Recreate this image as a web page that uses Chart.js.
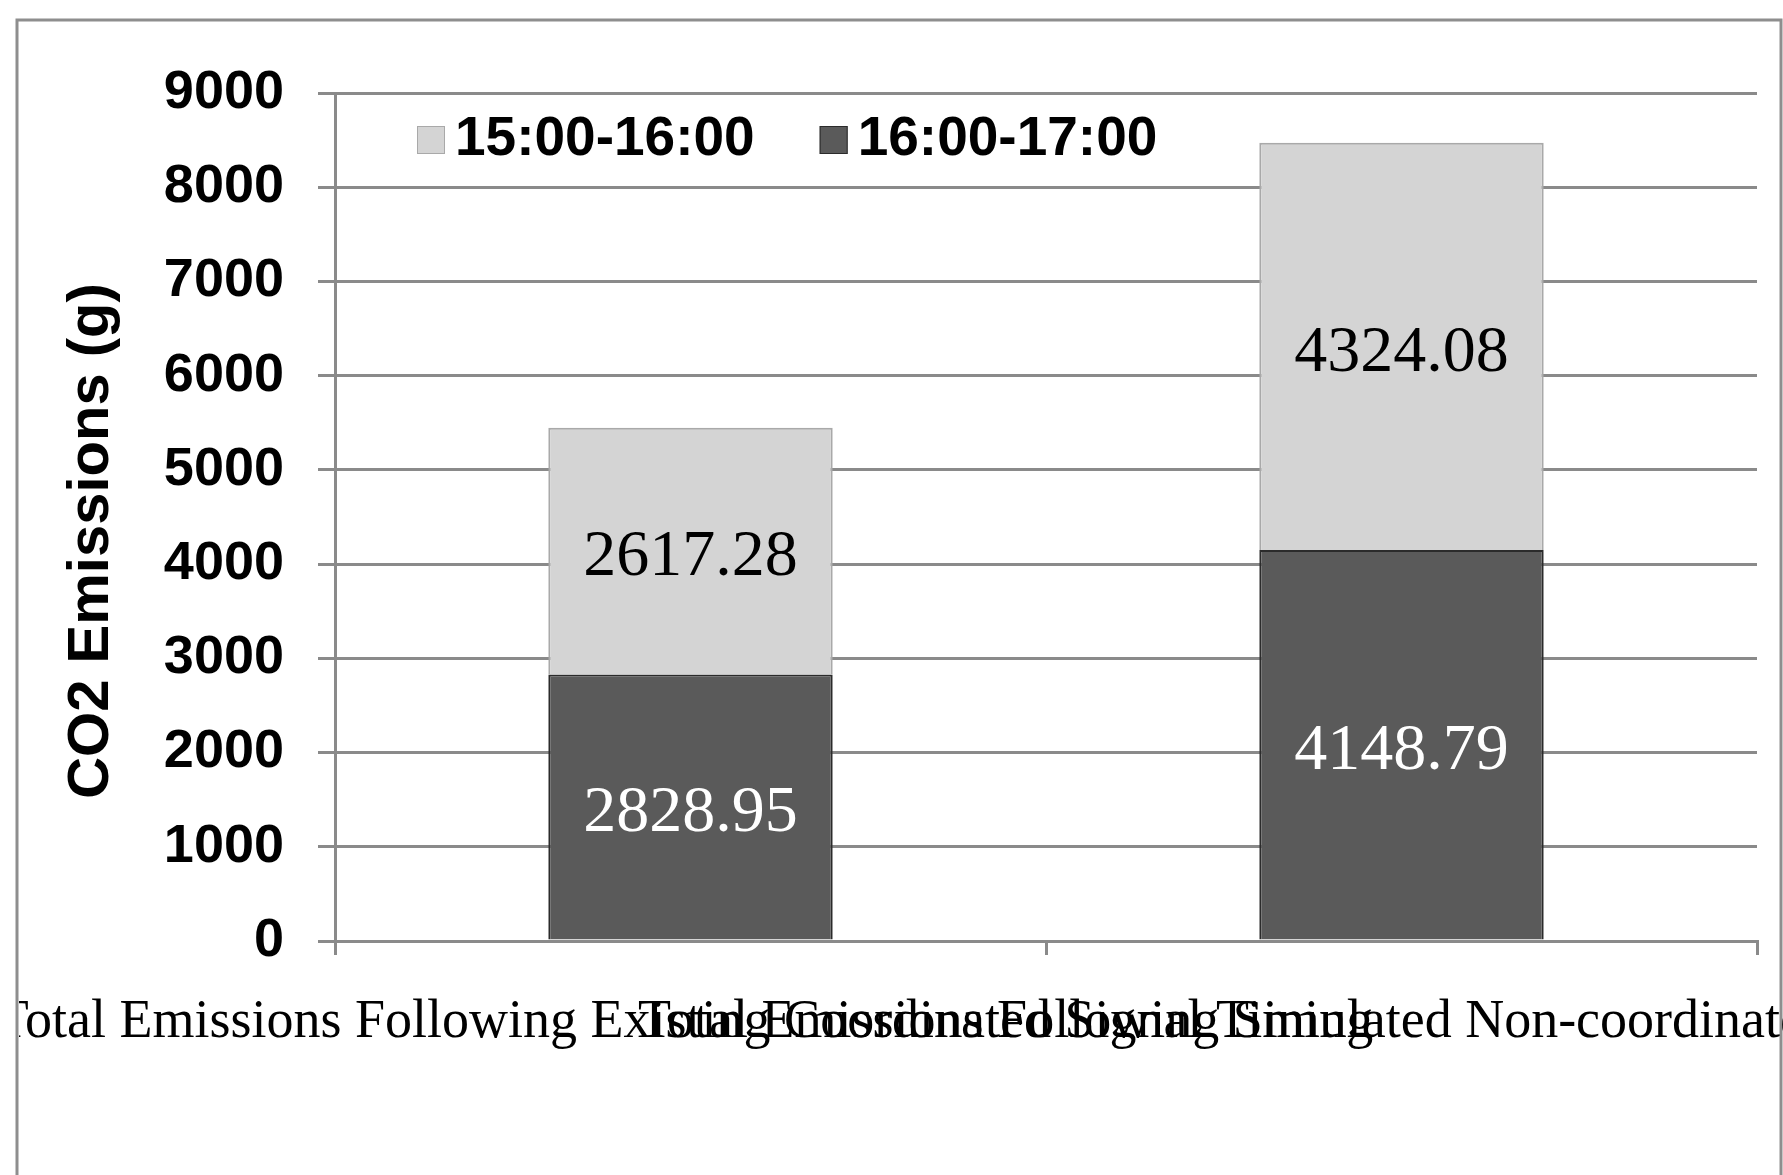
<!DOCTYPE html>
<html><head><meta charset="utf-8">
<script src="https://cdn.jsdelivr.net/npm/chart.js@4.4.1/dist/chart.umd.min.js"></script>
<style>html,body{margin:0;padding:0;background:#fff;overflow:hidden}canvas{display:block}</style>
</head><body>
<canvas id="c" width="1783" height="1175"></canvas>
<script>
// ---- data ----
const categories = [
  "Total Emissions Following Existing Coordinated Signal Timing",
  "Total Emissions Following Simulated Non-coordinated Signal Timing"
];
const seriesLate = "16:00-17:00";
const seriesEarly = "15:00-16:00";
const valuesLate = [2828.95, 4148.79];
const valuesEarly = [2617.28, 4324.08];
const yMin = 0, yMax = 9000, yStep = 1000;
const yTitle = "CO2 Emissions (g)";

// ---- styles ----
const GRID = '#8a8a8a';
const SANS = '"Liberation Sans", Arial, sans-serif';
const SERIF = '"Liberation Serif", "Times New Roman", serif';

const framePlugin = {
  id: 'frame',
  beforeDraw(chart) {
    const ctx = chart.ctx;
    ctx.save();
    ctx.fillStyle = '#fff';
    ctx.fillRect(0, 0, chart.width, chart.height);
    ctx.restore();
  },
  afterDraw(chart) {
    const ctx = chart.ctx;
    ctx.save();
    ctx.strokeStyle = '#8e8e8e';
    ctx.lineWidth = 3;
    ctx.strokeRect(17, 20, chart.width - 19, chart.height + 50);
    ctx.restore();
  }
};

const valueLabels = {
  id: 'valueLabels',
  afterDatasetsDraw(chart) {
    const ctx = chart.ctx;
    ctx.save();
    ctx.font = '66px ' + SERIF;
    ctx.textAlign = 'center';
    ctx.textBaseline = 'middle';
    chart.data.datasets.forEach((ds, di) => {
      const meta = chart.getDatasetMeta(di);
      meta.data.forEach((bar, i) => {
        const p = bar.getProps(['x', 'y', 'base'], true);
        ctx.fillStyle = ds.labelColor;
        ctx.fillText(ds.data[i].toFixed(2), p.x, (p.y + p.base) / 2 + 7);
      });
    });
    ctx.restore();
  }
};

const categoryLabels = {
  id: 'categoryLabels',
  afterDraw(chart) {
    const xs = chart.scales.x, ctx = chart.ctx;
    ctx.save();
    ctx.beginPath();
    ctx.rect(19, 0, chart.width - 19, chart.height);
    ctx.clip();
    ctx.font = '54px ' + SERIF;
    ctx.fillStyle = '#000';
    ctx.textAlign = 'center';
    ctx.textBaseline = 'alphabetic';
    chart.data.labels.forEach((l, i) => {
      ctx.fillText(l, xs.getPixelForValue(i) - 6, chart.chartArea.bottom + 96);
    });
    ctx.restore();
  }
};

const insideLegend = {
  id: 'insideLegend',
  afterDraw(chart) {
    const ctx = chart.ctx;
    const items = chart.data.datasets.slice().reverse();
    let x = 417;
    const cy = 140, box = 28;
    ctx.save();
    ctx.font = 'bold 55px ' + SANS;
    ctx.textBaseline = 'middle';
    ctx.textAlign = 'left';
    items.forEach(ds => {
      ctx.fillStyle = ds.backgroundColor;
      ctx.fillRect(x, cy - box / 2, box, box);
      ctx.strokeStyle = ds.borderColor;
      ctx.lineWidth = 1;
      ctx.strokeRect(x + 0.5, cy - box / 2 + 0.5, box - 1, box - 1);
      ctx.fillStyle = '#000';
      ctx.fillText(ds.label, x + box + 10, cy);
      x += box + 10 + ctx.measureText(ds.label).width + 65;
    });
    ctx.restore();
  }
};

const yTitlePlugin = {
  id: 'yTitle',
  afterDraw(chart) {
    const ctx = chart.ctx;
    ctx.save();
    ctx.translate(92, 541);
    ctx.rotate(-Math.PI / 2);
    ctx.font = 'bold 58px ' + SANS;
    ctx.fillStyle = '#000';
    ctx.textAlign = 'center';
    ctx.textBaseline = 'middle';
    ctx.fillText(yTitle, 0, 0);
    ctx.restore();
  }
};

new Chart(document.getElementById('c'), {
  type: 'bar',
  data: {
    labels: categories,
    datasets: [
      { label: seriesLate, data: valuesLate, backgroundColor: '#5a5a5a', borderColor: '#2b2b2b', borderWidth: 2, labelColor: '#fff' },
      { label: seriesEarly, data: valuesEarly, backgroundColor: '#d4d4d4', borderColor: '#a9a9a9', borderWidth: 2, labelColor: '#000' }
    ]
  },
  options: {
    responsive: false,
    animation: false,
    devicePixelRatio: 1,
    layout: { padding: { top: 93, right: 26, bottom: 0, left: 0 } },
    datasets: { bar: { categoryPercentage: 0.4, barPercentage: 1.0 } },
    plugins: { legend: { display: false }, tooltip: { enabled: false } },
    scales: {
      x: {
        stacked: true,
        offset: true,
        grid: { display: true, drawOnChartArea: false, drawTicks: true, tickLength: 14, color: GRID, lineWidth: 3, offset: true },
        border: { display: true, color: GRID, width: 3 },
        ticks: { display: false },
        afterFit(s) { s.height = 234; }
      },
      y: {
        stacked: true,
        min: yMin,
        max: yMax,
        ticks: { stepSize: yStep, padding: 34, color: '#000', font: { family: SANS, size: 54, weight: 'bold' },
                 callback: v => String(v) },
        grid: { color: GRID, lineWidth: 3, tickLength: 17, drawTicks: true },
        border: { display: true, color: GRID, width: 3 },
        afterFit(s) { s.width = 335; }
      }
    }
  },
  plugins: [framePlugin, valueLabels, categoryLabels, insideLegend, yTitlePlugin]
});
</script>
</body></html>
